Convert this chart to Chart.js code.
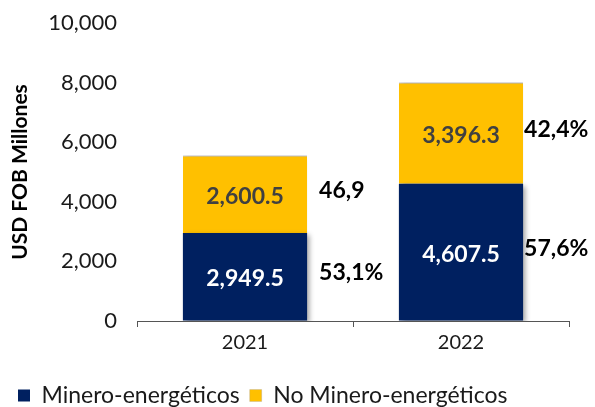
<!DOCTYPE html>
<html>
<head>
<meta charset="utf-8">
<script src="https://cdn.jsdelivr.net/npm/chart.js@4"></script>
<style>
  body { margin: 0; background: #fff; }
  #wrap { width: 595px; height: 407px; }
</style>
</head>
<body>
<div id="wrap"><canvas id="chart"></canvas></div>
<script>
var years = ["2021", "2022"];
var minero = [2949.5, 4607.5];
var noMinero = [2600.5, 3396.3];
var pctMinero = ["53,1%", "57,6%"];
var pctNoMinero = ["46,9", "42,4%"];
var yTicks = [0, 2000, 4000, 6000, 8000, 10000];

var FONT = "Lato, 'DejaVu Sans', sans-serif";

function fmt(v) {
	return v.toLocaleString("en-US", { minimumFractionDigits: 1, maximumFractionDigits: 1 });
}

// labels inside the bars and the shares on their right
var labelPlugin = {
	id: "labels",
	afterDatasetsDraw: function(chart) {
		var ctx = chart.ctx;
		ctx.save();
		ctx.textBaseline = "middle";
		chart.data.datasets.forEach(function(ds, di) {
			var meta = chart.getDatasetMeta(di);
			meta.data.forEach(function(bar, i) {
				var mid = (bar.y + bar.base) / 2;
				ctx.font = "bold 23px " + FONT;
				ctx.textAlign = "center";
				ctx.fillStyle = di == 0 ? "#ffffff" : "#404040";
				ctx.fillText(fmt(ds.data[i]), bar.x, mid + 2);
				var pct = di == 0 ? pctMinero[i] : pctNoMinero[i];
				ctx.textAlign = "left";
				ctx.fillStyle = "#000000";
				var off = i == 0 ? 12 : 1;
				ctx.fillText(pct, bar.x + bar.width / 2 + off, mid - 4);
			});
		});
		ctx.restore();
	}
};

var shadowPlugin = {
	id: "shadow",
	beforeDatasetsDraw: function(chart) {
		var ctx = chart.ctx;
		ctx.save();
		ctx.shadowColor = "rgba(0,0,0,0.35)";
		ctx.shadowBlur = 5;
		ctx.shadowOffsetX = 3;
		ctx.shadowOffsetY = 2;
	},
	afterDatasetsDraw: function(chart) {
		chart.ctx.restore();
	}
};

var ctx = document.getElementById("chart");

var chart = new Chart(ctx, {
	type: "bar",
	data: {
		labels: years,
		datasets: [
		{
			label: "Minero-energéticos",
			data: minero,
			backgroundColor: "#002060",
			borderWidth: 0,
			barPercentage: 0.575,
			categoryPercentage: 1
		},
		{
			label: "No Minero-energéticos",
			data: noMinero,
			backgroundColor: "#FFC000",
			borderColor: "#8a8fa8",
			borderWidth: { top: 1, left: 0, right: 0, bottom: 0 },
			borderSkipped: false,
			barPercentage: 0.575,
			categoryPercentage: 1
		}
		]
	},
	options: {
		responsive: true,
		maintainAspectRatio: false,
		animation: false,
		layout: { padding: { top: 23, right: 26, left: 8, bottom: -10 } },
		plugins: {
			legend: {
				position: "bottom",
				align: "start",
				labels: {
					font: { family: FONT, size: 23 },
					color: "#1a1a1a",
					boxWidth: 12,
					boxHeight: 12,
					padding: 10
				}
			},
			tooltip: { enabled: false }
		},
		scales: {
			x: {
				stacked: true,
				grid: {
					offset: true,
					drawOnChartArea: false,
					drawTicks: true,
					tickLength: 6,
					color: "#555"
				},
				border: { color: "#555", width: 1 },
				ticks: {
					font: { family: FONT, size: 20 },
					color: "#1a1a1a",
					padding: 4
				},
				afterFit: function(axis) { axis.height += 15; }
			},
			y: {
				stacked: true,
				min: 0,
				max: 10000,
				afterBuildTicks: function(axis) {
					axis.ticks = yTicks.map(function(v) { return { value: v }; });
				},
				afterFit: function(axis) { axis.width = 129; },
				grid: { drawOnChartArea: false, drawTicks: true, tickLength: 14, color: "rgba(0,0,0,0)" },
				border: { display: false },
				ticks: {
					font: { family: FONT, size: 22, lineHeight: 1 },
					color: "#1a1a1a",
					padding: 6,
					callback: function(v) { return v.toLocaleString("en-US"); }
				},
				title: {
					display: true,
					text: "USD FOB Millones",
					font: { family: FONT, size: 21, weight: "bold" },
					color: "#000",
					padding: { top: 0, bottom: 4 }
				}
			}
		}
	},
	plugins: [shadowPlugin, labelPlugin]
});
</script>
</body>
</html>
